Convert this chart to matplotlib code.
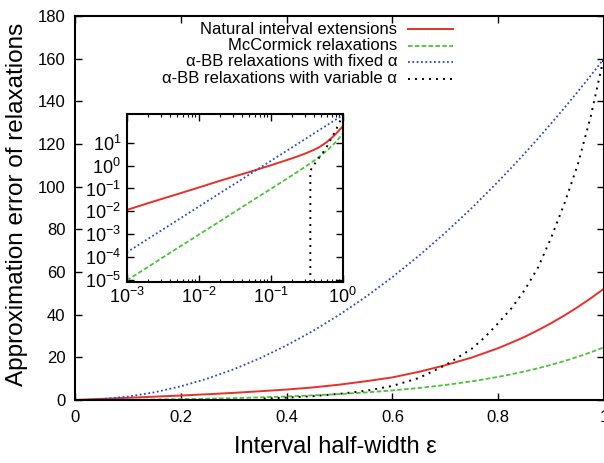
import matplotlib
matplotlib.use("Agg")
import matplotlib.pyplot as plt
from matplotlib.ticker import LogLocator, NullFormatter, FixedLocator

plt.rcParams['font.family'] = ['Liberation Sans', 'DejaVu Sans']

# ---- data ----
eps = [0, 0.001, 0.002, 0.005, 0.01, 0.02, 0.05, 0.1, 0.15, 0.2, 0.25, 0.3,
       0.35, 0.4, 0.45, 0.5, 0.55, 0.6, 0.65, 0.7, 0.75, 0.8, 0.825, 0.85, 0.875,
       0.9, 0.925, 0.95, 0.975, 1.0]
natural = [0, 0.0115, 0.023, 0.056, 0.11, 0.22, 0.52, 1.03, 1.56, 2.1, 2.7, 3.35,
           4.1, 4.9, 5.9, 7.2, 8.8, 10.6, 13.2, 16.3, 19.9, 24.3, 26.9, 29.6, 32.7,
           36.0, 39.6, 43.5, 47.7, 52.2]
mccormick = [0, 9.5e-6, 3.8e-5, 2.4e-4, 9.5e-4, 3.8e-3, 0.024, 0.095, 0.214, 0.384,
             0.605, 0.884, 1.23, 1.65, 2.16, 2.79, 3.55, 4.49, 5.63, 7.03, 8.75,
             10.84, 12.06, 13.39, 14.86, 16.48, 18.26, 20.22, 22.36, 24.7]
abb_fixed = [0, 1.6e-4, 6.4e-4, 0.004, 0.016, 0.064, 0.4, 1.6, 3.6, 6.4, 10.0, 14.4,
             19.6, 25.6, 32.4, 40.0, 48.4, 57.6, 67.6, 78.4, 90.0, 102.4, 108.9,
             115.6, 122.5, 129.6, 136.9, 144.4, 152.1, 160.0]
eps_var = [0, 0.35, 0.355, 0.4, 0.45, 0.5, 0.55, 0.6, 0.65, 0.7, 0.75, 0.775, 0.8,
           0.825, 0.85, 0.875, 0.9, 0.925, 0.95, 0.975, 1.0]
abb_var = [0, 0, 0.6, 1.1, 1.8, 2.9, 4.3, 6.6, 10.3, 16.3, 24.0, 29.5, 36.0,
           43.0, 51.5, 62.0, 76.0, 92.0, 110.0, 133.0, 161.0]

labels = ["Natural interval extensions", "McCormick relaxations",
          "\u03b1-BB relaxations with fixed \u03b1",
          "\u03b1-BB relaxations with variable \u03b1"]
x_ticks = [0, 0.2, 0.4, 0.6, 0.8, 1.0]
x_ticklabels = ["0", "0.2", "0.4", "0.6", "0.8", "1"]
y_ticks = [0, 20, 40, 60, 80, 100, 120, 140, 160, 180]
inset_xticks = [1e-3, 1e-2, 1e-1, 1e0]
inset_xticklabels = ["$10^{-3}$", "$10^{-2}$", "$10^{-1}$", "$10^{0}$"]
inset_yticks = [1e-5, 1e-4, 1e-3, 1e-2, 1e-1, 1e0, 1e1]
inset_yticklabels = ["$10^{-5}$", "$10^{-4}$", "$10^{-3}$", "$10^{-2}$",
                     "$10^{-1}$", "$10^{0}$", "$10^{1}$"]

# ---- styles ----
RED, GREEN, BLUE, BLACK = '#e8302a', '#4cc23a', '#2a4cc0', '#000000'
styles = [dict(color=RED, lw=1.4, ls='-'),
          dict(color=GREEN, lw=1.3, ls=(0, (2.5, 1.3))),
          dict(color=BLUE, lw=1.3, ls=(0, (1, 1.4))),
          dict(color=BLACK, lw=1.4, ls=(0, (1, 2.6)))]

plt.rcParams['mathtext.fontset'] = 'custom'
plt.rcParams['mathtext.rm'] = 'Liberation Sans'
plt.rcParams['mathtext.it'] = 'Liberation Sans:italic'

fig = plt.figure(figsize=(6.04, 4.63), dpi=100)
W, H = 604, 463
ax = fig.add_axes([75 / W, (H - 400) / H, 529 / W, 384 / H])

ax.plot(eps, natural, **styles[0])
ax.plot(eps, mccormick, **styles[1])
ax.plot(eps, abb_fixed, **styles[2])
ax.plot(eps_var, abb_var, **styles[3])

ax.set_xlim(0, 1)
ax.set_ylim(0, 180)
ax.set_xticks(x_ticks)
ax.set_xticklabels(x_ticklabels)
ax.set_yticks(y_ticks)
ax.tick_params(direction='in', length=5, width=1.0, top=True, right=True,
               labelsize=12, pad=7)
for s in ax.spines.values():
    s.set_linewidth(1.5)
ax.set_xlabel("Interval half-width \u03b5", fontsize=17)
ax.xaxis.set_label_coords(0.493, -0.095)
ax.set_ylabel("Approximation error of relaxations", fontsize=17.5)
ax.yaxis.set_label_coords(-0.088, 0.51)

# manual gnuplot-style legend (text right-aligned, sample on the right)
row_y = [29, 45.5, 62, 78.5]
for lab, st, yy in zip(labels, styles, row_y):
    ty = 1 - (yy - 16) / 384
    ax.text((397 - 75) / 529, ty, lab, transform=ax.transAxes, ha='right',
            va='center', fontsize=12)
    ax.plot([(408 - 75) / 529, (453 - 75) / 529], [ty, ty], transform=ax.transAxes,
            **st)

# ---- inset ----
ins = fig.add_axes([126.7 / W, (H - 281.7) / H, 216 / W, 167.4 / H])
ins.plot(eps[1:], natural[1:], **styles[0])
ins.plot(eps[1:], mccormick[1:], **styles[1])
ins.plot(eps[1:], abb_fixed[1:], **styles[2])
ins.plot(eps_var[1:], abb_var[1:], **styles[3])
ins.set_xscale('log')
ins.set_yscale('log')
ins.set_xlim(1e-3, 1e0)
ins.set_ylim(8.4e-6, 175)
ins.xaxis.set_major_locator(FixedLocator(inset_xticks))
ins.set_xticklabels(inset_xticklabels)
ins.xaxis.set_minor_locator(LogLocator(base=10, subs=range(2, 10)))
ins.xaxis.set_minor_formatter(NullFormatter())
ins.yaxis.set_major_locator(FixedLocator(inset_yticks))
ins.set_yticklabels(inset_yticklabels)
ins.yaxis.set_minor_locator(FixedLocator([]))
ins.tick_params(which='major', direction='in', length=5, width=1.0, top=True,
                right=True, labelsize=13, pad=4)
ins.tick_params(which='minor', direction='in', length=2.5, width=0.8, top=True,
                right=True)
for s in ins.spines.values():
    s.set_linewidth(1.5)

fig.savefig("out.png", dpi=100)
